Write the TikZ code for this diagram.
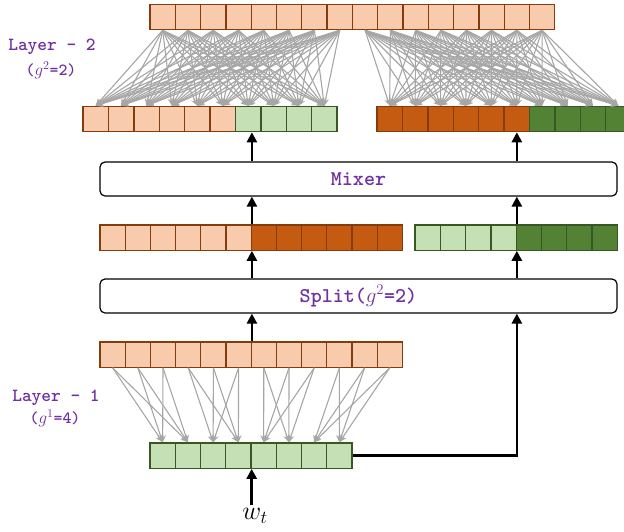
\RequirePackage{fix-cm}
\documentclass[tikz,border=0pt]{standalone}
\usepackage{tikz}
\usetikzlibrary{arrows.meta, positioning}
\definecolor{lorange}{HTML}{F8CBAD}
\definecolor{dorange}{HTML}{C55A11}
\definecolor{oline}{HTML}{843C0C}
\definecolor{lgreen}{HTML}{C5E0B4}
\definecolor{dgreen}{HTML}{548235}
\definecolor{gline}{HTML}{385723}
\definecolor{wirec}{HTML}{A6A6A6}
\definecolor{lblpurple}{HTML}{7030A0}

\begin{document}
\begin{tikzpicture}[
    x=1pt, y=-1pt,
    cell/.style={draw, line width=1.3pt, inner sep=0pt, minimum width=25.3pt, minimum height=25.3pt},
    ocell/.style={cell, draw=oline, fill=lorange},
    docell/.style={cell, draw=oline, fill=dorange},
    gcell/.style={cell, draw=gline, fill=lgreen},
    dgcell/.style={cell, draw=gline, fill=dgreen},
    block/.style={draw, rounded corners=5pt, line width=1.2pt, minimum width=517pt, minimum height=34pt, font=\fontsize{21}{21}\selectfont\ttfamily\bfseries, text=lblpurple},
    wire/.style={-{Stealth[length=7pt,width=6.5pt]}, draw=wirec, line width=1.1pt},
    flow/.style={-{Triangle[length=10pt,width=10pt]}, line width=2.7pt},
    layer/.style={font=\fontsize{18.5}{18.5}\selectfont\ttfamily\bfseries, text=lblpurple},
    group/.style={font=\fontsize{17}{17}\selectfont\ttfamily\bfseries, text=lblpurple}
]
    \useasboundingbox (0,0) rectangle (624,531);
    \clip (0,0) rectangle (624,531);

    % Layer 2 output
    \foreach \i in {0,...,15}
        \node[ocell] (top-\i) at ({150+25.3*(\i+0.5)}, 17) {};

    % Layer 2 inputs
    \foreach \i in {0,...,5}
        \node[ocell] (lin-\i) at ({83+25.4*(\i+0.5)}, 119) {};
    \foreach \i in {6,...,9}
        \node[gcell] (lin-\i) at ({83+25.4*(\i+0.5)}, 119) {};
    \foreach \i in {0,...,5}
        \node[docell] (rin-\i) at ({377+25.4*(\i+0.5)}, 119) {};
    \foreach \i in {6,...,9}
        \node[dgcell] (rin-\i) at ({377+25.4*(\i+0.5)}, 119) {};

    % Blocks
    \node[block] (mixer) at (358.5,179) {Mixer};
    \node[block] (split) at (358.5,296) {Split($g^2$=2)};

    % Split outputs
    \foreach \i in {0,...,5}
        \node[ocell] (ml-\i) at ({100+25.2*(\i+0.5)}, 237.5) {};
    \foreach \i in {6,...,11}
        \node[docell] (ml-\i) at ({100+25.2*(\i+0.5)}, 237.5) {};
    \foreach \i in {0,...,3}
        \node[gcell] (mr-\i) at ({415+25.3*(\i+0.5)}, 237.5) {};
    \foreach \i in {4,...,7}
        \node[dgcell] (mr-\i) at ({415+25.3*(\i+0.5)}, 237.5) {};

    % Layer 1
    \foreach \i in {0,...,11}
        \node[ocell] (l1o-\i) at ({100+25.2*(\i+0.5)}, 354.5) {};
    \foreach \i in {0,...,7}
        \node[gcell] (l1i-\i) at ({150+25.25*(\i+0.5)}, 455.5) {};

    \node[inner sep=3pt] (wt) at (255,516) {\fontsize{26}{26}\selectfont $w_t$};

    % Labels
    \node[layer] (lay2) at (52,47) {Layer – 2};
    \node[group] (grp2) at (51,70) {($g^2$=2)};
    \node[layer] (lay1) at (56,398) {Layer – 1};
    \node[group] (grp1) at (55,418) {($g^1$=4)};

    % Layer 2 weights
    \foreach \i in {0,...,7}
        \foreach \j in {0,...,9}
            \draw[wire] (top-\i.south) -- (lin-\j.north);
    \foreach \i in {8,...,15}
        \foreach \j in {0,...,9}
            \draw[wire] (top-\i.south) -- (rin-\j.north);

    % Layer 1 weights
    \foreach \g in {0,...,3}
        \foreach \a in {0,1,2}
            \foreach \b in {0,1} {
                \pgfmathtruncatemacro\src{3*\g+\a}
                \pgfmathtruncatemacro\dst{2*\g+\b}
                \draw[wire] (l1o-\src.south) -- (l1i-\dst.north);
            }

    % Data flow
    \draw[flow] (wt.north -| l1i-3.south east) -- (l1i-3.south east);
    \draw[flow] (l1i-7.east) -| (split.south -| mr-3.south east);
    \draw[flow] (l1o-5.north east) -- (split.south -| l1o-5.north east);
    \draw[flow] (split.north -| ml-5.south east) -- (ml-5.south east);
    \draw[flow] (split.north -| mr-3.south east) -- (mr-3.south east);
    \draw[flow] (ml-5.north east) -- (mixer.south -| ml-5.north east);
    \draw[flow] (mr-3.north east) -- (mixer.south -| mr-3.north east);
    \draw[flow] (mixer.north -| ml-5.north east) -- (lin-6.south -| ml-5.north east);
    \draw[flow] (mixer.north -| mr-3.north east) -- (rin-5.south -| mr-3.north east);
\end{tikzpicture}
\end{document}
